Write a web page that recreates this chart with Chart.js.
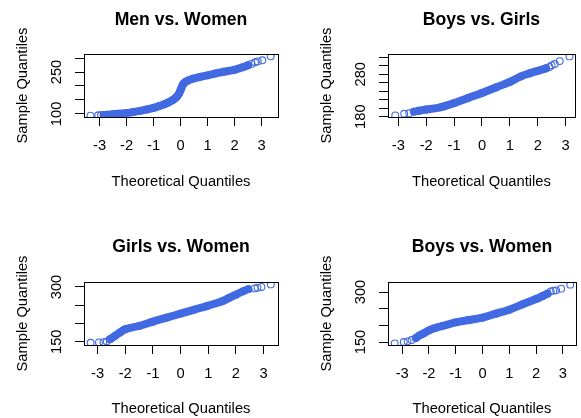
<!DOCTYPE html>
<html>
<head>
<meta charset="utf-8">
<script src="https://cdn.jsdelivr.net/npm/chart.js@4.4.1/dist/chart.umd.min.js"></script>
<style>
  html, body { margin: 0; padding: 0; background: #fff; overflow: hidden; }
  body { width: 581px; height: 418px; position: relative; }
  canvas { position: absolute; }
</style>
</head>
<body>
<canvas id="menWomen"></canvas>
<canvas id="boysGirls"></canvas>
<canvas id="girlsWomen"></canvas>
<canvas id="boysWomen"></canvas>
<script>
// theoretical quantiles (x) and sample quantiles (y)
const menWomenX = [-3.34, -3.05, -2.95, -2.85, -2.7, -2.5, -2.25, -2.0, -1.75, -1.5, -1.25, -1.0, -0.8, -0.6, -0.45, -0.3, -0.2, -0.12, -0.05, 0.0, 0.05, 0.1, 0.17, 0.28, 0.45, 0.7, 1.0, 1.3, 1.6, 2.0, 2.3, 2.5, 2.62, 2.76, 2.86, 3.03, 3.34];
const menWomenY = [94, 95, 95, 96, 97, 99, 101, 103, 107, 111, 116, 122, 128, 135, 141, 149, 156, 164, 174, 186, 198, 207, 214, 220, 226, 232, 238, 245, 251, 258, 267, 274, 279, 285, 288, 292, 306];

const boysGirlsX = [-3.11, -2.79, -2.61, -2.44, -2.25, -2.0, -1.5, -1.0, -0.5, 0, 0.5, 1.0, 1.4, 1.7, 2.0, 2.3, 2.42, 2.5, 2.61, 2.79, 3.14];
const boysGirlsY = [183, 187, 188, 192, 194, 197, 202, 212, 224, 236, 249, 262, 275, 282, 288, 294, 297, 301, 304, 311, 322];

const girlsWomenX = [-3.25, -2.95, -2.79, -2.67, -2.55, -2.37, -2.2, -2.0, -1.5, -1.0, -0.5, 0, 0.5, 1.0, 1.5, 1.75, 2.0, 2.25, 2.45, 2.68, 2.78, 2.92, 3.26];
const girlsWomenY = [147, 148, 149, 151, 157, 166, 175, 184, 193, 205, 216, 227, 238, 249, 261, 270, 279, 288, 294, 296, 298, 300, 307];

const boysWomenX = [-3.28, -2.94, -2.8, -2.65, -2.49, -2.35, -2.19, -2.0, -1.5, -1.0, -0.5, 0, 0.5, 1.0, 1.5, 2.0, 2.25, 2.43, 2.55, 2.65, 2.75, 2.94, 3.28];
const boysWomenY = [146, 150, 152, 156, 162, 170, 176, 185, 198, 209, 216, 223, 235, 247, 263, 279, 288, 295, 302, 304, 305, 310, 322];

// axis ticks (R drops the labels that would overlap)
const xTickValues = [-3, -2, -1, 0, 1, 2, 3];
const menWomenTicks = [100, 150, 200, 250, 300];
const menWomenLabels = [100, 250];
const boysGirlsTicks = [180, 200, 220, 240, 260, 280, 300, 320];
const boysGirlsLabels = [180, 280];
const womenTicks = [150, 200, 250, 300];
const womenLabels = [150, 300];

const FONT = "'Liberation Sans', Arial, Helvetica, sans-serif";
const BLUE = "#4169e1";
const TEXT = 14.7;
const LINE_H = TEXT * 1.2;

// canvas rect [left, top, width, height] and plot box [left, top, right, bottom], page px
const panels = [
  { id: "menWomen", title: "Men vs. Women", x: menWomenX, y: menWomenY, band: [3, 32],
    yTicks: menWomenTicks, yLabels: menWomenLabels, xRange: [-3.58, 3.61], yRange: [89, 314.5],
    canvas: [0, 0, 290, 209], box: [84, 54, 278, 117] },
  { id: "boysGirls", title: "Boys vs. Girls", x: boysGirlsX, y: boysGirlsY, band: [3, 16],
    yTicks: boysGirlsTicks, yLabels: boysGirlsLabels, xRange: [-3.37, 3.33], yRange: [179.3, 327.7],
    canvas: [300, 0, 281, 209], box: [388, 54, 580, 117] },
  { id: "girlsWomen", title: "Girls vs. Women", x: girlsWomenX, y: girlsWomenY, band: [4, 19],
    yTicks: womenTicks, yLabels: womenLabels, xRange: [-3.49, 3.52], yRange: [141, 313.6],
    canvas: [0, 227, 290, 191], box: [84, 282, 278, 345] },
  { id: "boysWomen", title: "Boys vs. Women", x: boysWomenX, y: boysWomenY, band: [4, 18],
    yTicks: womenTicks, yLabels: womenLabels, xRange: [-3.53, 3.49], yRange: [141, 330],
    canvas: [300, 227, 281, 191], box: [388, 282, 580, 345] }
];

// frame round the plot region, and y tick labels running along the axis as R draws them
const rFrame = {
  id: "rFrame",
  afterDraw(chart, args, opts) {
    const { ctx, chartArea: a } = chart;
    const ys = chart.scales.y;
    ctx.save();
    ctx.strokeStyle = "#000";
    ctx.lineWidth = 1;
    const l = Math.round(a.left) + 0.5, t = Math.round(a.top) + 0.5;
    ctx.strokeRect(l, t, Math.round(a.right) - Math.round(a.left), Math.round(a.bottom) - Math.round(a.top));
    ctx.fillStyle = "#000";
    ctx.font = TEXT + "px " + FONT;
    ctx.textAlign = "center";
    ctx.textBaseline = "middle";
    opts.labels.forEach(v => {
      ctx.save();
      ctx.translate(a.left - 27, ys.getPixelForValue(v));
      ctx.rotate(-Math.PI / 2);
      ctx.fillText(String(v), 0, 0);
      ctx.restore();
    });
    ctx.restore();
  }
};

function qqPlot(p) {
  const [cx, cy, cw, ch] = p.canvas;
  const box = { l: p.box[0] - cx, t: p.box[1] - cy, r: p.box[2] - cx, b: p.box[3] - cy };
  const el = document.getElementById(p.id);
  el.style.left = cx + "px";
  el.style.top = cy + "px";
  el.width = cw;
  el.height = ch;

  const points = p.x.map((v, i) => ({ x: v, y: p.y[i] }));
  const tickGrid = { display: true, drawOnChartArea: false, drawTicks: true, tickLength: 9, color: "#000", tickColor: "#000", lineWidth: 1 };

  new Chart(el, {
    type: "scatter",
    data: {
      datasets: [
        {
          // where the circles pile up they merge into one solid band
          data: points.slice(p.band[0], p.band[1]),
          showLine: true,
          borderColor: BLUE,
          borderWidth: 8,
          borderCapStyle: "round",
          borderJoinStyle: "round",
          cubicInterpolationMode: "monotone",
          pointRadius: 0
        },
        {
          data: points,
          pointStyle: "circle",
          pointRadius: 3.4,
          borderWidth: 1.1,
          borderColor: BLUE,
          backgroundColor: "rgba(0,0,0,0)"
        }
      ]
    },
    options: {
      responsive: false,
      animation: false,
      devicePixelRatio: 1,
      events: [],
      layout: { padding: { left: 0, top: 0, right: cw - box.r, bottom: 0 } },
      plugins: {
        legend: { display: false },
        tooltip: { enabled: false },
        rFrame: { labels: p.yLabels }
      },
      scales: {
        x: {
          type: "linear",
          position: "bottom",
          min: p.xRange[0],
          max: p.xRange[1],
          afterBuildTicks: s => { s.ticks = xTickValues.map(v => ({ value: v })); },
          afterFit: s => { s.height = ch - box.b; },
          grid: tickGrid,
          border: { display: false },
          ticks: { color: "#000", font: { family: FONT, size: TEXT }, padding: 11, maxRotation: 0, autoSkip: false },
          title: { display: true, text: "Theoretical Quantiles", color: "#000", font: { family: FONT, size: TEXT },
                   padding: { top: 0, bottom: ch - 181.5 - LINE_H / 2 } }
        },
        y: {
          type: "linear",
          position: "left",
          min: p.yRange[0],
          max: p.yRange[1],
          afterBuildTicks: s => { s.ticks = p.yTicks.map(v => ({ value: v })); },
          afterFit: s => { s.width = box.l; },
          grid: tickGrid,
          border: { display: false },
          ticks: { display: false },
          // axis title sits 61.5px left of the plot box
          title: { display: true, text: "Sample Quantiles", color: "#000", font: { family: FONT, size: TEXT },
                   padding: { top: box.l - 61.5 - LINE_H / 2, bottom: 0 } }
        },
        // top axis only carries the panel heading, centred over the plot box
        top: {
          type: "linear",
          position: "top",
          min: 0,
          max: 1,
          afterFit: s => { s.height = box.t; },
          grid: { display: false },
          border: { display: false },
          ticks: { display: false },
          title: { display: true, text: p.title, color: "#000", font: { family: FONT, size: 17.6, weight: "bold" },
                   padding: { top: 19.8 - 17.6 * 0.6, bottom: 0 } }
        }
      }
    },
    plugins: [rFrame]
  });
}

panels.forEach(qqPlot);
</script>
</body>
</html>
